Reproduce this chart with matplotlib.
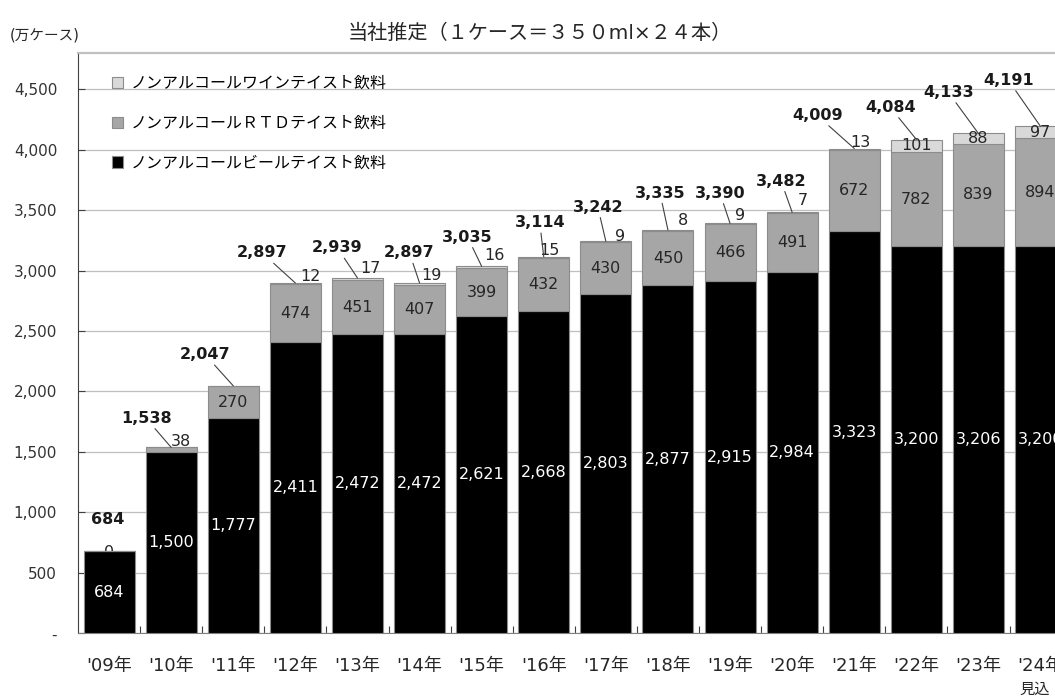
import matplotlib
matplotlib.use("Agg")
import matplotlib.pyplot as plt
from matplotlib.patches import Patch
from matplotlib.ticker import FixedLocator, FuncFormatter

plt.rcParams['font.family'] = ['DejaVu Sans', 'Noto Sans CJK JP']

# data (万ケース)
years = ["'09年", "'10年", "'11年", "'12年", "'13年", "'14年", "'15年", "'16年",
         "'17年", "'18年", "'19年", "'20年", "'21年", "'22年", "'23年", "'24年"]
beer = [684, 1500, 1777, 2411, 2472, 2472, 2621, 2668, 2803, 2877, 2915, 2984, 3323, 3200, 3206, 3200]
rtd = [0, 38, 270, 474, 451, 407, 399, 432, 430, 450, 466, 491, 672, 782, 839, 894]
wine = [0, 0, 0, 12, 17, 19, 16, 15, 9, 8, 9, 7, 13, 101, 88, 97]
totals = [684, 1538, 2047, 2897, 2939, 2897, 3035, 3114, 3242, 3335, 3390, 3482, 4009, 4084, 4133, 4191]

names = ['ノンアルコールワインテイスト飲料', 'ノンアルコールＲＴＤテイスト飲料', 'ノンアルコールビールテイスト飲料']

# label placement (pixel offsets from the top of each bar)
tot_off = [(-1, 31), (-25, 29), (-28, 31), (-33, 30), (-20, 30), (-10, 30), (-14, 29), (-4, 34),
           (-8, 34), (-8, 37), (-10, 30), (-11, 31), (-37, 33), (-26, 32), (-30, 41), (-32, 46)]
small_off = [(0, -2), (10, 6), None, (15, 6), (13, 9), (12, 7), (13, 11), (6, 6),
             (14, 5), (15, 10), (10, 8), (11, 12), (6, 6), None, None, None]

c_beer = '#000000'
c_rtd = '#a6a6a6'
c_wine = '#d9d9d9'
c_edge = '#8c8c8c'

fig = plt.figure(figsize=(10.55, 7.0), dpi=100)
ax = fig.add_axes([78 / 1055, 66.6 / 700, 993.6 / 1055, 580.6 / 700])

x = list(range(len(years)))
w = 0.82
bot2 = [b + r for b, r in zip(beer, rtd)]
ax.bar(x, beer, w, color=c_beer, edgecolor=c_edge, linewidth=0.8, zorder=3)
ax.bar(x, rtd, w, bottom=beer, color=c_rtd, edgecolor=c_edge, linewidth=0.8, zorder=3)
ax.bar(x, wine, w, bottom=bot2, color=c_wine, edgecolor=c_edge, linewidth=0.8, zorder=3)

ax.set_xlim(-0.5, 15.5)
ax.set_ylim(0, 4800)

# grid + axes
ax.yaxis.set_major_locator(FixedLocator(range(0, 5000, 500)))
ax.yaxis.set_major_formatter(FuncFormatter(lambda v, p: '-' if v == 0 else f'{int(v):,}'))
ax.grid(axis='y', color='#bfbfbf', linewidth=0.9, zorder=0)
ax.set_axisbelow(True)
ax.tick_params(axis='y', direction='in', length=5, width=0.8, color='#404040',
               labelcolor='#333333', labelsize=11, pad=15)
ax.set_xticks(x)
ax.set_xticklabels(years, fontsize=13, color='#262626')
ax.tick_params(axis='x', length=0, pad=17)
ax.set_xticks([i + 0.5 for i in x], minor=True)
ax.tick_params(axis='x', which='minor', direction='in', length=5, width=0.8, color='#404040')
ax.spines['right'].set_visible(False)
ax.spines['left'].set_color('#404040')
ax.spines['bottom'].set_color('#808080')
ax.spines['top'].set_color('#c0c0c0')
ax.spines['top'].set_linewidth(1.6)

# value labels
for i in x:
    ax.text(i, beer[i] / 2, f'{beer[i]:,}', ha='center', va='center', color='white',
            fontsize=11.5, zorder=5)
    if i >= 2 and rtd[i] > 0:
        ax.text(i, beer[i] + rtd[i] / 2, f'{rtd[i]:,}', ha='center', va='center',
                color='#262626', fontsize=11.5, zorder=5)
    if small_off[i] is not None:
        dx, dy = small_off[i]
        val = rtd[i] if i < 2 else wine[i]
        ax.annotate(f'{val}', (i, totals[i]), xytext=(dx, dy), textcoords='offset pixels',
                    ha='center', va='center', fontsize=11.5, color='#262626',
                    zorder=2 if i == 0 else 5)
    elif wine[i] > 0:
        ax.text(i, bot2[i] + wine[i] / 2, f'{wine[i]}', ha='center', va='center',
                color='#262626', fontsize=11.5, zorder=5)

    dx, dy = tot_off[i]
    arrow = None if i == 0 else dict(arrowstyle='-', color='#404040', lw=0.8,
                                     shrinkA=0, shrinkB=0)
    ax.annotate(f'{totals[i]:,}', (i, totals[i]), xytext=(dx, dy), textcoords='offset pixels',
                ha='center', va='center', fontsize=11.5, fontweight='bold', color='#1a1a1a',
                arrowprops=arrow, zorder=6, annotation_clip=False)

# legend
handles = [Patch(facecolor=c_wine, edgecolor=c_edge, linewidth=0.8),
           Patch(facecolor=c_rtd, edgecolor=c_edge, linewidth=0.8),
           Patch(facecolor=c_beer, edgecolor=c_edge, linewidth=0.8)]
fig.legend(handles, names, loc='upper left', bbox_to_anchor=(112 / 1055, 1 - 76 / 700),
           frameon=False, fontsize=11.5, handlelength=0.7, handleheight=0.7,
           handletextpad=0.5, labelspacing=1.55, borderaxespad=0, borderpad=0)

fig.text(540 / 1055, 1 - 33 / 700, '当社推定（１ケース＝３５０ml×２４本）', ha='center', va='center',
         fontsize=14.5, color='#262626')
fig.text(45 / 1055, 1 - 35 / 700, '(万ケース)', ha='center', va='center', fontsize=10.5,
         color='#262626')
fig.text(1035 / 1055, 1 - 689 / 700, '見込', ha='center', va='center', fontsize=11,
         color='#262626')

fig.savefig('out.png', dpi=100)
